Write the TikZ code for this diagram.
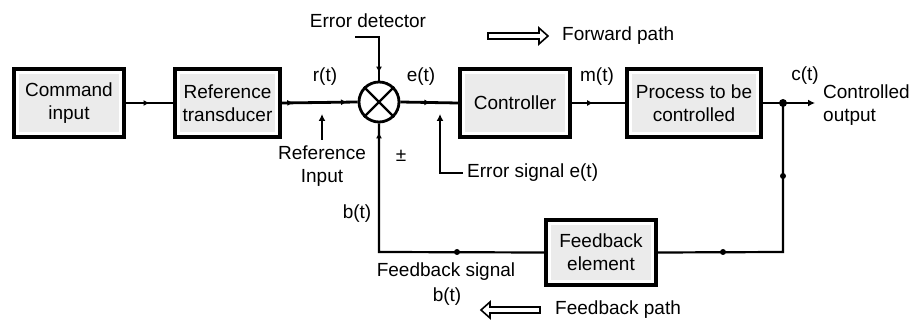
\documentclass[tikz,border=0pt]{standalone}
\usepackage{fontspec}
\setmainfont{Liberation Sans}
\usetikzlibrary{arrows.meta,decorations.markings,calc}
\begin{document}
\begin{tikzpicture}[x=1pt,y=-1pt,
  every node/.style={font=\fontsize{19}{23}\selectfont},
  blk/.style={draw, line width=3.8pt, fill=white, inner sep=0pt, align=center,
    path picture={\fill[gray!16] ([shift={(5pt,5pt)}]path picture bounding box.south west) rectangle ([shift={(-5pt,-5pt)}]path picture bounding box.north east);}},
  sig/.style={line width=2.8pt},
  fbl/.style={line width=2.2pt},
  lead/.style={line width=1.8pt},
  mk/.style={postaction={decorate,decoration={markings,mark=at position #1 with {\arrow{Latex[length=6pt,width=6pt]}}}}},
  tip/.style={-{Latex[length=7pt,width=7pt]}},
  dot/.style={circle, fill, inner sep=0pt, minimum size=5pt},
  lbl/.style={inner sep=0pt, align=center},
  hollow/.style={draw, line width=1.6pt, fill=white}
]
\useasboundingbox (0,0) rectangle (915,320);

% blocks
\node[blk, minimum width=110, minimum height=68] (cmd) at (69,103) {Command\\input};
\node[blk, minimum width=105, minimum height=68] (ref) at (227.5,103) {Reference\\transducer};
\node[blk, minimum width=110, minimum height=68] (ctrl) at (515,103) {Controller};
\node[blk, minimum width=134, minimum height=68] (proc) at (694,103) {Process to be\\controlled};
\node[blk, minimum width=110, minimum height=65] (fb) at (601,252.5) {Feedback\\element};

% summing junction
\node[circle, draw, line width=2.8pt, minimum size=40pt, inner sep=0pt, fill=white] (sum) at (379,102) {};
\draw[line width=2.2pt] (sum.north east) -- (sum.south west) (sum.north west) -- (sum.south east);

% coordinates
\coordinate (j) at (783,103);
\coordinate (out) at (815,103);
\coordinate (br) at (783,252);
\coordinate (bl) at (379,252);
\coordinate (ed) at (355,37);
\coordinate (edc) at (379,37);
\coordinate (ri) at (322,140);
\coordinate (ri2) at (322,114);
\coordinate (es) at (463,173);
\coordinate (esc) at (440,173);
\coordinate (es2) at (440,114);

% forward path
\draw[sig, mk=0.5] (cmd.east) -- (ref.west);
\draw[sig, mk=0.15, mk=0.86] (ref.east) -- (sum.west);
\draw[sig, mk=0.52] (sum.east) -- (ctrl.west);
\draw[sig, mk=0.4] (ctrl.east) -- (proc.west);
\draw[sig, tip] (proc.east) -- (out);
\node[dot, minimum size=8pt] (jd) at (j) {};

% feedback path
\draw[fbl] (j) -- (br) -- (fb.east);
\fill (783,176) circle (3pt);
\fill (723,252) circle (3pt);
\draw[fbl, mk=-9pt] (fb.west) -- (bl) -- (sum.south);
\fill (457,252) circle (3pt);

% leaders
\draw[lead, mk=-8pt] (ed) -- (edc) -- (sum.north);
\draw[lead, tip] (ri) -- (ri2);
\draw[lead, tip] (es) -- (esc) -- (es2);

% labels
\node[lbl] (edt) at (368,21) {Error detector};
\node[lbl] (rt) at (325,77) {r(t)};
\node[lbl] (et) at (421,77) {e(t)};
\node[lbl] (mt) at (597,77) {m(t)};
\node[lbl] (ct) at (805,76) {c(t)};
\node[lbl, anchor=west, align=left] (co) at (823,105) {Controlled\\output};
\node[lbl] (rit) at (322,166) {Reference\\Input};
\node[lbl] (pm) at (401,156) {±};
\node[lbl, anchor=west] (est) at (467,173) {Error signal e(t)};
\node[lbl] (bt) at (357,214) {b(t)};
\node[lbl] (fst) at (446,272) {Feedback signal};
\node[lbl] (fsb) at (447,297) {b(t)};
\node[lbl, anchor=west] (fwt) at (562,36) {Forward path};
\node[lbl, anchor=west] (fbt) at (555,310) {Feedback path};

% hollow arrows
\draw[hollow] (488,33) -- (539,33) -- (539,28) -- (548,36) -- (539,44) -- (539,39) -- (488,39) -- cycle;
\draw[hollow] (540,307) -- (490,307) -- (490,302) -- (481,310) -- (490,318) -- (490,313) -- (540,313) -- cycle;
\end{tikzpicture}
\end{document}
